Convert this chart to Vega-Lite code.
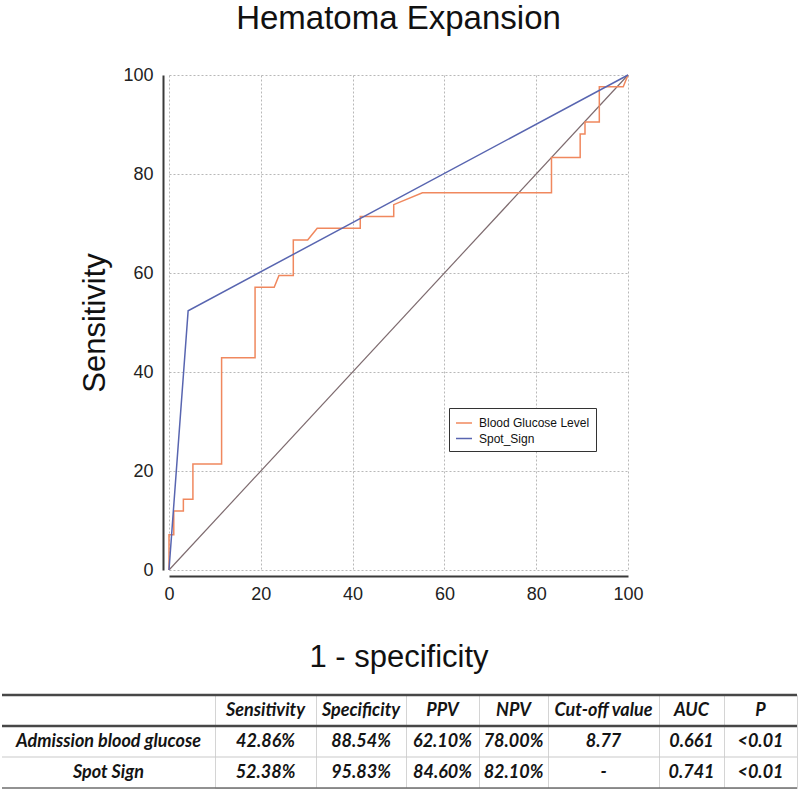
{
  "$schema": "https://vega.github.io/schema/vega-lite/v6.json",
  "background": "white",
  "padding": {"left": 0, "right": 0, "top": 3, "bottom": 0},
  "config": {"view": {"stroke": null}, "font": "Liberation Sans"},
  "datasets": {
    "roc": [
      {"series": "Blood Glucose Level", "i": 0, "fpr": 0, "sens": 0},
      {"series": "Blood Glucose Level", "i": 1, "fpr": 0, "sens": 7.14},
      {"series": "Blood Glucose Level", "i": 2, "fpr": 1.04, "sens": 7.14},
      {"series": "Blood Glucose Level", "i": 3, "fpr": 1.04, "sens": 11.9},
      {"series": "Blood Glucose Level", "i": 4, "fpr": 3.13, "sens": 11.9},
      {"series": "Blood Glucose Level", "i": 5, "fpr": 3.13, "sens": 14.29},
      {"series": "Blood Glucose Level", "i": 6, "fpr": 5.21, "sens": 14.29},
      {"series": "Blood Glucose Level", "i": 7, "fpr": 5.21, "sens": 21.43},
      {"series": "Blood Glucose Level", "i": 8, "fpr": 11.46, "sens": 21.43},
      {"series": "Blood Glucose Level", "i": 9, "fpr": 11.46, "sens": 42.86},
      {"series": "Blood Glucose Level", "i": 10, "fpr": 18.75, "sens": 42.86},
      {"series": "Blood Glucose Level", "i": 11, "fpr": 18.75, "sens": 57.14},
      {"series": "Blood Glucose Level", "i": 12, "fpr": 22.92, "sens": 57.14},
      {"series": "Blood Glucose Level", "i": 13, "fpr": 23.96, "sens": 59.52},
      {"series": "Blood Glucose Level", "i": 14, "fpr": 27.08, "sens": 59.52},
      {"series": "Blood Glucose Level", "i": 15, "fpr": 27.08, "sens": 66.67},
      {"series": "Blood Glucose Level", "i": 16, "fpr": 30.21, "sens": 66.67},
      {"series": "Blood Glucose Level", "i": 17, "fpr": 32.29, "sens": 69.05},
      {"series": "Blood Glucose Level", "i": 18, "fpr": 41.67, "sens": 69.05},
      {"series": "Blood Glucose Level", "i": 19, "fpr": 41.67, "sens": 71.43},
      {"series": "Blood Glucose Level", "i": 20, "fpr": 48.96, "sens": 71.43},
      {"series": "Blood Glucose Level", "i": 21, "fpr": 48.96, "sens": 73.81},
      {"series": "Blood Glucose Level", "i": 22, "fpr": 55.21, "sens": 76.19},
      {"series": "Blood Glucose Level", "i": 23, "fpr": 83.33, "sens": 76.19},
      {"series": "Blood Glucose Level", "i": 24, "fpr": 83.33, "sens": 83.33},
      {"series": "Blood Glucose Level", "i": 25, "fpr": 89.58, "sens": 83.33},
      {"series": "Blood Glucose Level", "i": 26, "fpr": 89.58, "sens": 88.1},
      {"series": "Blood Glucose Level", "i": 27, "fpr": 90.63, "sens": 88.1},
      {"series": "Blood Glucose Level", "i": 28, "fpr": 90.63, "sens": 90.48},
      {"series": "Blood Glucose Level", "i": 29, "fpr": 93.75, "sens": 90.48},
      {"series": "Blood Glucose Level", "i": 30, "fpr": 93.75, "sens": 97.62},
      {"series": "Blood Glucose Level", "i": 31, "fpr": 98.96, "sens": 97.62},
      {"series": "Blood Glucose Level", "i": 32, "fpr": 100, "sens": 100},
      {"series": "Spot_Sign", "i": 0, "fpr": 0, "sens": 0},
      {"series": "Spot_Sign", "i": 1, "fpr": 4.17, "sens": 52.38},
      {"series": "Spot_Sign", "i": 2, "fpr": 100, "sens": 100}
    ],
    "table": [
      {"row": 0, "Measure": "", "Sensitivity": "Sensitivity", "Specificity": "Specificity", "PPV": "PPV", "NPV": "NPV", "Cutoff": "Cut-off value", "AUC": "AUC", "P": "P"},
      {"row": 1, "Measure": "Admission blood glucose", "Sensitivity": "42.86%", "Specificity": "88.54%", "PPV": "62.10%", "NPV": "78.00%", "Cutoff": "8.77", "AUC": "0.661", "P": "<0.01"},
      {"row": 2, "Measure": "Spot Sign", "Sensitivity": "52.38%", "Specificity": "95.83%", "PPV": "84.60%", "NPV": "82.10%", "Cutoff": "-", "AUC": "0.741", "P": "<0.01"}
    ]
  },
  "spacing": 21,
  "vconcat": [
    {
      "hconcat": [
        {"width": 167, "height": 10, "data": {"values": []}, "mark": {"type": "text"}},
        {
          "width": 459,
          "height": 495,
          "title": {"text": "Hematoma Expansion", "font": "Liberation Sans", "fontSize": 33, "fontWeight": "normal", "color": "#111111", "offset": 30, "frame": "group", "anchor": "middle"},
          "encoding": {
            "x": {
              "field": "fpr", "type": "quantitative",
              "scale": {"domain": [0, 100], "nice": false, "zero": false},
              "axis": {
                "title": "1 - specificity", "titleFont": "Liberation Sans", "titleFontSize": 31, "titleFontWeight": "normal", "titleColor": "#111111", "titlePadding": 39,
                "values": [0, 5, 10, 15, 20, 25, 30, 35, 40, 45, 50, 55, 60, 65, 70, 75, 80, 85, 90, 95, 100],
                "labelExpr": "datum.value % 20 === 0 ? datum.label : ''",
                "labelFont": "Liberation Sans", "labelFontSize": 18, "labelColor": "#222222", "labelPadding": 9, "labelFlush": false, "labelOverlap": false,
                "offset": 6, "domainColor": "#3a3a3a", "domainWidth": 2,
                "ticks": true, "tickSize": 0, "tickColor": "#3a3a3a", "tickWidth": 1.5,
                "encode": {"ticks": {"update": {"y2": {"signal": "datum.value % 20 === 0 ? -7 : -4"}}}},
                "grid": true, "gridColor": "#b8b8b8", "gridDash": [2, 2], "gridWidth": 1,
                "gridOpacity": {"condition": {"test": "datum.value % 20 === 0", "value": 1}, "value": 0}
              }
            },
            "y": {
              "field": "sens", "type": "quantitative",
              "scale": {"domain": [0, 100], "nice": false, "zero": false},
              "axis": {
                "title": "Sensitivity", "titleFont": "Liberation Sans", "titleFontSize": 31, "titleFontWeight": "normal", "titleColor": "#111111", "titlePadding": 11,
                "values": [0, 5, 10, 15, 20, 25, 30, 35, 40, 45, 50, 55, 60, 65, 70, 75, 80, 85, 90, 95, 100],
                "labelExpr": "datum.value % 20 === 0 ? datum.label : ''",
                "labelFont": "Liberation Sans", "labelFontSize": 18, "labelColor": "#222222", "labelPadding": 10, "labelFlush": false, "labelOverlap": false,
                "offset": 6, "domainColor": "#3a3a3a", "domainWidth": 2,
                "ticks": true, "tickSize": 0, "tickColor": "#3a3a3a", "tickWidth": 1.5,
                "encode": {"ticks": {"update": {"x2": {"signal": "datum.value % 20 === 0 ? 7 : 4"}}}},
                "grid": true, "gridColor": "#b8b8b8", "gridDash": [2, 2], "gridWidth": 1,
                "gridOpacity": {"condition": {"test": "datum.value % 20 === 0", "value": 1}, "value": 0}
              }
            }
          },
          "layer": [
            {
              "data": {"values": [{"fpr": 0, "sens": 0}, {"fpr": 100, "sens": 100}]},
              "mark": {"type": "line", "color": "#7d6a6e", "strokeWidth": 1.2},
              "encoding": {}
            },
            {
              "data": {"name": "roc"},
              "mark": {"type": "line", "strokeWidth": 1.5},
              "encoding": {
                "order": {"field": "i", "type": "quantitative"},
                "color": {
                  "field": "series", "type": "nominal",
                  "scale": {"domain": ["Blood Glucose Level", "Spot_Sign"], "range": ["#f0885e", "#5865b0"]},
                  "legend": {"orient": "none", "legendX": 447, "legendY": 333, "title": null, "symbolType": "stroke", "symbolSize": 256, "symbolStrokeWidth": 1.5, "labelFont": "Liberation Sans", "labelFontSize": 12, "labelColor": "#111111", "strokeColor": "#333333", "fillColor": "#ffffff", "padding": 6, "rowPadding": 0.5, "labelOffset": 6}
                }
              }
            }
          ]
        }
      ],
      "spacing": 0,
      "bounds": "flush"
    },
    {
      "data": {"name": "table"},
      "hconcat": [
        {
          "width": 213, "height": 93, "view": {"stroke": null},
          "layer": [
            {"mark": {"type": "text", "font": "Lato", "fontSize": 18, "fontStyle": "italic", "fontWeight": "bold", "color": "#141414"},
             "encoding": {"y": {"field": "row", "type": "ordinal", "axis": null, "scale": {"type": "band", "paddingInner": 0, "paddingOuter": 0}}, "text": {"field": "Measure"}}},
            {"mark": {"type": "rule"},
             "encoding": {"y": {"field": "row", "type": "ordinal", "bandPosition": 0, "axis": null, "scale": {"type": "band", "paddingInner": 0, "paddingOuter": 0}},
               "strokeWidth": {"condition": {"test": "datum.row < 2", "value": 2.5}, "value": 1},
               "color": {"condition": {"test": "datum.row < 2", "value": "#474747"}, "value": "#c9c9c9"}}},
            {"transform": [{"filter": "datum.row == 2"}], "mark": {"type": "rule", "color": "#6e6e6e", "strokeWidth": 1.5},
             "encoding": {"y": {"field": "row", "type": "ordinal", "bandPosition": 1, "axis": null, "scale": {"type": "band", "paddingInner": 0, "paddingOuter": 0}}}}
          ]
        },
        {
          "width": 101, "height": 93, "view": {"stroke": "#d4d4d4"},
          "layer": [
            {"mark": {"type": "text", "font": "Lato", "fontSize": 18, "fontStyle": "italic", "fontWeight": "bold", "color": "#141414"},
             "encoding": {"y": {"field": "row", "type": "ordinal", "axis": null, "scale": {"type": "band", "paddingInner": 0, "paddingOuter": 0}}, "text": {"field": "Sensitivity"}}},
            {"mark": {"type": "rule"},
             "encoding": {"y": {"field": "row", "type": "ordinal", "bandPosition": 0, "axis": null, "scale": {"type": "band", "paddingInner": 0, "paddingOuter": 0}},
               "strokeWidth": {"condition": {"test": "datum.row < 2", "value": 2.5}, "value": 1},
               "color": {"condition": {"test": "datum.row < 2", "value": "#474747"}, "value": "#c9c9c9"}}},
            {"transform": [{"filter": "datum.row == 2"}], "mark": {"type": "rule", "color": "#6e6e6e", "strokeWidth": 1.5},
             "encoding": {"y": {"field": "row", "type": "ordinal", "bandPosition": 1, "axis": null, "scale": {"type": "band", "paddingInner": 0, "paddingOuter": 0}}}}
          ]
        },
        {
          "width": 90, "height": 93, "view": {"stroke": "#d4d4d4"},
          "layer": [
            {"mark": {"type": "text", "font": "Lato", "fontSize": 18, "fontStyle": "italic", "fontWeight": "bold", "color": "#141414"},
             "encoding": {"y": {"field": "row", "type": "ordinal", "axis": null, "scale": {"type": "band", "paddingInner": 0, "paddingOuter": 0}}, "text": {"field": "Specificity"}}},
            {"mark": {"type": "rule"},
             "encoding": {"y": {"field": "row", "type": "ordinal", "bandPosition": 0, "axis": null, "scale": {"type": "band", "paddingInner": 0, "paddingOuter": 0}},
               "strokeWidth": {"condition": {"test": "datum.row < 2", "value": 2.5}, "value": 1},
               "color": {"condition": {"test": "datum.row < 2", "value": "#474747"}, "value": "#c9c9c9"}}},
            {"transform": [{"filter": "datum.row == 2"}], "mark": {"type": "rule", "color": "#6e6e6e", "strokeWidth": 1.5},
             "encoding": {"y": {"field": "row", "type": "ordinal", "bandPosition": 1, "axis": null, "scale": {"type": "band", "paddingInner": 0, "paddingOuter": 0}}}}
          ]
        },
        {
          "width": 73, "height": 93, "view": {"stroke": "#d4d4d4"},
          "layer": [
            {"mark": {"type": "text", "font": "Lato", "fontSize": 18, "fontStyle": "italic", "fontWeight": "bold", "color": "#141414"},
             "encoding": {"y": {"field": "row", "type": "ordinal", "axis": null, "scale": {"type": "band", "paddingInner": 0, "paddingOuter": 0}}, "text": {"field": "PPV"}}},
            {"mark": {"type": "rule"},
             "encoding": {"y": {"field": "row", "type": "ordinal", "bandPosition": 0, "axis": null, "scale": {"type": "band", "paddingInner": 0, "paddingOuter": 0}},
               "strokeWidth": {"condition": {"test": "datum.row < 2", "value": 2.5}, "value": 1},
               "color": {"condition": {"test": "datum.row < 2", "value": "#474747"}, "value": "#c9c9c9"}}},
            {"transform": [{"filter": "datum.row == 2"}], "mark": {"type": "rule", "color": "#6e6e6e", "strokeWidth": 1.5},
             "encoding": {"y": {"field": "row", "type": "ordinal", "bandPosition": 1, "axis": null, "scale": {"type": "band", "paddingInner": 0, "paddingOuter": 0}}}}
          ]
        },
        {
          "width": 69, "height": 93, "view": {"stroke": "#d4d4d4"},
          "layer": [
            {"mark": {"type": "text", "font": "Lato", "fontSize": 18, "fontStyle": "italic", "fontWeight": "bold", "color": "#141414"},
             "encoding": {"y": {"field": "row", "type": "ordinal", "axis": null, "scale": {"type": "band", "paddingInner": 0, "paddingOuter": 0}}, "text": {"field": "NPV"}}},
            {"mark": {"type": "rule"},
             "encoding": {"y": {"field": "row", "type": "ordinal", "bandPosition": 0, "axis": null, "scale": {"type": "band", "paddingInner": 0, "paddingOuter": 0}},
               "strokeWidth": {"condition": {"test": "datum.row < 2", "value": 2.5}, "value": 1},
               "color": {"condition": {"test": "datum.row < 2", "value": "#474747"}, "value": "#c9c9c9"}}},
            {"transform": [{"filter": "datum.row == 2"}], "mark": {"type": "rule", "color": "#6e6e6e", "strokeWidth": 1.5},
             "encoding": {"y": {"field": "row", "type": "ordinal", "bandPosition": 1, "axis": null, "scale": {"type": "band", "paddingInner": 0, "paddingOuter": 0}}}}
          ]
        },
        {
          "width": 111, "height": 93, "view": {"stroke": "#d4d4d4"},
          "layer": [
            {"mark": {"type": "text", "font": "Lato", "fontSize": 18, "fontStyle": "italic", "fontWeight": "bold", "color": "#141414"},
             "encoding": {"y": {"field": "row", "type": "ordinal", "axis": null, "scale": {"type": "band", "paddingInner": 0, "paddingOuter": 0}}, "text": {"field": "Cutoff"}}},
            {"mark": {"type": "rule"},
             "encoding": {"y": {"field": "row", "type": "ordinal", "bandPosition": 0, "axis": null, "scale": {"type": "band", "paddingInner": 0, "paddingOuter": 0}},
               "strokeWidth": {"condition": {"test": "datum.row < 2", "value": 2.5}, "value": 1},
               "color": {"condition": {"test": "datum.row < 2", "value": "#474747"}, "value": "#c9c9c9"}}},
            {"transform": [{"filter": "datum.row == 2"}], "mark": {"type": "rule", "color": "#6e6e6e", "strokeWidth": 1.5},
             "encoding": {"y": {"field": "row", "type": "ordinal", "bandPosition": 1, "axis": null, "scale": {"type": "band", "paddingInner": 0, "paddingOuter": 0}}}}
          ]
        },
        {
          "width": 65, "height": 93, "view": {"stroke": "#d4d4d4"},
          "layer": [
            {"mark": {"type": "text", "font": "Lato", "fontSize": 18, "fontStyle": "italic", "fontWeight": "bold", "color": "#141414"},
             "encoding": {"y": {"field": "row", "type": "ordinal", "axis": null, "scale": {"type": "band", "paddingInner": 0, "paddingOuter": 0}}, "text": {"field": "AUC"}}},
            {"mark": {"type": "rule"},
             "encoding": {"y": {"field": "row", "type": "ordinal", "bandPosition": 0, "axis": null, "scale": {"type": "band", "paddingInner": 0, "paddingOuter": 0}},
               "strokeWidth": {"condition": {"test": "datum.row < 2", "value": 2.5}, "value": 1},
               "color": {"condition": {"test": "datum.row < 2", "value": "#474747"}, "value": "#c9c9c9"}}},
            {"transform": [{"filter": "datum.row == 2"}], "mark": {"type": "rule", "color": "#6e6e6e", "strokeWidth": 1.5},
             "encoding": {"y": {"field": "row", "type": "ordinal", "bandPosition": 1, "axis": null, "scale": {"type": "band", "paddingInner": 0, "paddingOuter": 0}}}}
          ]
        },
        {
          "width": 73, "height": 93, "view": {"stroke": "#d4d4d4"},
          "layer": [
            {"mark": {"type": "text", "font": "Lato", "fontSize": 18, "fontStyle": "italic", "fontWeight": "bold", "color": "#141414"},
             "encoding": {"y": {"field": "row", "type": "ordinal", "axis": null, "scale": {"type": "band", "paddingInner": 0, "paddingOuter": 0}}, "text": {"field": "P"}}},
            {"mark": {"type": "rule"},
             "encoding": {"y": {"field": "row", "type": "ordinal", "bandPosition": 0, "axis": null, "scale": {"type": "band", "paddingInner": 0, "paddingOuter": 0}},
               "strokeWidth": {"condition": {"test": "datum.row < 2", "value": 2.5}, "value": 1},
               "color": {"condition": {"test": "datum.row < 2", "value": "#474747"}, "value": "#c9c9c9"}}},
            {"transform": [{"filter": "datum.row == 2"}], "mark": {"type": "rule", "color": "#6e6e6e", "strokeWidth": 1.5},
             "encoding": {"y": {"field": "row", "type": "ordinal", "bandPosition": 1, "axis": null, "scale": {"type": "band", "paddingInner": 0, "paddingOuter": 0}}}}
          ]
        }
      ],
      "spacing": 0,
      "bounds": "flush"
    }
  ]
}
